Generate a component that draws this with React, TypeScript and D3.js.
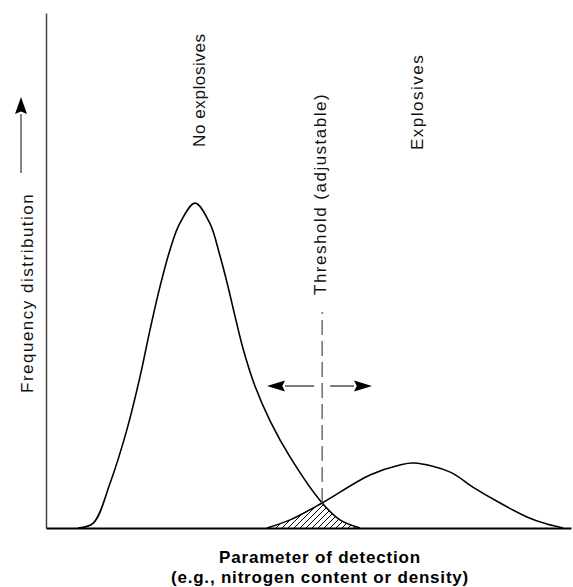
import React, { useEffect } from 'react';
import * as d3 from 'd3';

// Parameter of detection (arbitrary units) vs. frequency (peak of "no explosives" = 1)
const noExplosivesX = [0.61, 0.9, 1.22, 1.54, 1.79, 1.98, 2.17, 2.36, 2.55, 2.84, 3.12, 3.31, 3.45, 3.6, 3.75, 3.98, 4.27, 4.65, 5.26, 5.6, 5.98];
const noExplosivesY = [0, 0.015, 0.138, 0.302, 0.465, 0.609, 0.742, 0.855, 0.938, 1.0, 0.938, 0.84, 0.754, 0.652, 0.554, 0.437, 0.329, 0.218, 0.077, 0.025, 0];
const explosivesX = [4.21, 4.65, 5.26, 6.17, 6.74, 7.01, 7.7, 8.13, 8.65, 9.16, 9.54, 9.85];
const explosivesY = [0, 0.025, 0.077, 0.163, 0.194, 0.2, 0.172, 0.126, 0.077, 0.034, 0.012, 0];

const threshold = 5.26;
const thresholdRange = [0.077, 0.665];
const arrowLevel = 0.437;
const arrowExtent = [4.21, 6.21];

const labels = {
  yAxis: 'Frequency distribution',
  noExplosives: 'No explosives',
  explosives: 'Explosives',
  threshold: 'Threshold (adjustable)',
  xAxis: ['Parameter of detection', '(e.g., nitrogen content or density)'],
};

const FONT = '"Liberation Sans", Arial, Helvetica, sans-serif';

const App = () => {
  useEffect(() => {
    draw();
  }, []);

  const draw = () => {
    d3.select('#chart').select('svg').remove();

    const width = 573;
    const height = 587;

    const svg = d3
      .select('#chart')
      .append('svg')
      .attr('width', width)
      .attr('height', height)
      .style('position', 'absolute')
      .style('left', 0)
      .style('top', 0)
      .style('background', '#fff');

    const x = d3.scaleLinear().domain([0, 10]).range([46, 571]);
    const y = d3.scaleLinear().domain([0, 1.585]).range([528, 13]);

    const left = noExplosivesX.map((v, i) => [v, noExplosivesY[i]] as [number, number]);
    const right = explosivesX.map((v, i) => [v, explosivesY[i]] as [number, number]);

    const curve = d3.curveCatmullRom.alpha(0.5);

    const defs = svg.append('defs');
    const hatch = defs
      .append('pattern')
      .attr('id', 'hatch')
      .attr('patternUnits', 'userSpaceOnUse')
      .attr('width', 6)
      .attr('height', 6);
    hatch
      .append('path')
      .attr('d', 'M-1,1 l2,-2 M0,6 l6,-6 M5,7 l2,-2')
      .attr('stroke', '#000')
      .attr('stroke-width', 1);

    const area = d3
      .area<[number, number]>()
      .x((d) => x(d[0]))
      .y0(y(0))
      .y1((d) => Math.min(y(0), y(d[1])))
      .curve(curve);

    defs.append('clipPath').attr('id', 'left-clip').append('path').attr('d', area(left) || '');

    // overlap of both distributions
    svg
      .append('path')
      .attr('d', area(right) || '')
      .attr('fill', 'url(#hatch)')
      .attr('clip-path', 'url(#left-clip)');

    // axes
    svg
      .append('g')
      .attr('transform', `translate(${x(0)},0)`)
      .call(d3.axisLeft(y).ticks(0).tickSize(0).tickSizeOuter(0))
      .call((g) => g.select('.domain').attr('stroke', '#444').attr('stroke-width', 1.5));

    svg
      .append('g')
      .attr('transform', `translate(0,${y(0)})`)
      .call(d3.axisBottom(x).ticks(0).tickSize(0).tickSizeOuter(0))
      .call((g) => g.select('.domain').attr('stroke', '#000').attr('stroke-width', 2));

    const line = d3
      .line<[number, number]>()
      .x((d) => x(d[0]))
      .y((d) => y(d[1]))
      .curve(curve);

    [left, right].forEach((d) => {
      svg
        .append('path')
        .attr('d', line(d) || '')
        .attr('fill', 'none')
        .attr('stroke', '#000')
        .attr('stroke-width', 1.6);
    });

    // threshold
    svg
      .append('line')
      .attr('x1', x(threshold))
      .attr('x2', x(threshold))
      .attr('y1', y(thresholdRange[0]))
      .attr('y2', y(thresholdRange[1]))
      .attr('stroke', '#555')
      .attr('stroke-width', 1.3)
      .attr('stroke-dasharray', '15,6');

    const arrow = (x1: number, y1: number, x2: number, y2: number, len: number, half: number, color: string) => {
      const a = Math.atan2(y2 - y1, x2 - x1);
      const bx = x2 - len * Math.cos(a);
      const by = y2 - len * Math.sin(a);
      svg
        .append('line')
        .attr('x1', x1)
        .attr('y1', y1)
        .attr('x2', bx)
        .attr('y2', by)
        .attr('stroke', color)
        .attr('stroke-width', 1.3);
      const nx = -Math.sin(a) * half;
      const ny = Math.cos(a) * half;
      svg
        .append('path')
        .attr('d', `M${x2},${y2}L${bx + nx},${by + ny}L${bx + len * 0.15 * Math.cos(a)},${by + len * 0.15 * Math.sin(a)}L${bx - nx},${by - ny}Z`)
        .attr('fill', '#000');
    };

    const ay = y(arrowLevel);
    arrow(x(threshold) - 8, ay, x(arrowExtent[0]), ay, 18, 5.5, '#333');
    arrow(x(threshold) + 8, ay, x(arrowExtent[1]), ay, 18, 5.5, '#333');

    // y-axis label arrow
    arrow(21, 173, 21, 97, 17, 6, '#444');

    const vtext = (tx: number, ty: number, text: string, spacing: number) => {
      svg
        .append('text')
        .attr('transform', `translate(${tx},${ty}) rotate(-90)`)
        .attr('font-family', FONT)
        .attr('font-size', 17)
        .attr('letter-spacing', spacing)
        .attr('fill', '#111')
        .text(text);
    };

    vtext(33, 393, labels.yAxis, 1.5);
    vtext(205, 147, labels.noExplosives, 0.6);
    vtext(423, 150, labels.explosives, 1.5);
    vtext(326, 295, labels.threshold, 1.5);

    labels.xAxis.forEach((t, i) => {
      svg
        .append('text')
        .attr('x', 320)
        .attr('y', 563 + i * 20)
        .attr('text-anchor', 'middle')
        .attr('font-family', FONT)
        .attr('font-size', 17)
        .attr('font-weight', 'bold')
        .attr('letter-spacing', 0.8)
        .attr('fill', '#000')
        .text(t);
    });
  };

  return <div id="chart"></div>;
};

export default App;
